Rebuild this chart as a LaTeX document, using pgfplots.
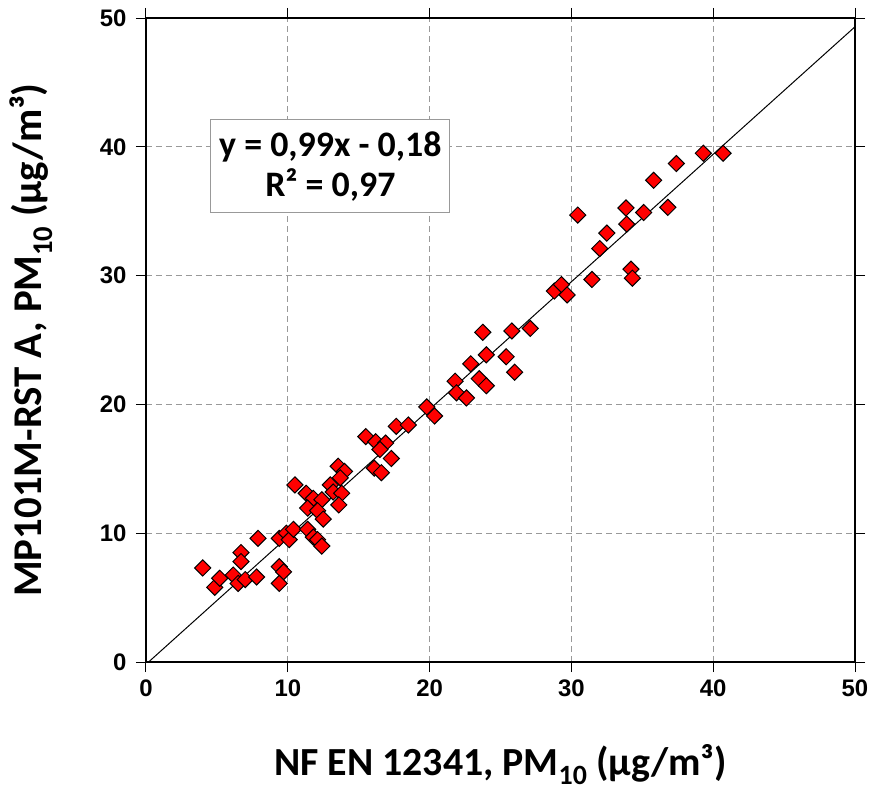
\documentclass[border=0pt]{standalone}
\usepackage{pgfplots}
\pgfplotsset{compat=1.18}
\usepackage{fontspec}
\setmainfont{Carlito}
\newfontfamily\tickfont{Liberation Sans}
\begin{document}
\begin{tikzpicture}
\useasboundingbox (-146bp,-129bp) rectangle (727bp,662bp);
\begin{axis}[
  scale only axis,
  width=709bp, height=644bp,
  xmin=0, xmax=50, ymin=0, ymax=50,
  xtick={0,10,20,30,40,50}, ytick={0,10,20,30,40,50},
  tick align=outside, major tick length=10bp,
  tick style={black, line width=1pt},
  axis line style={black, line width=1.6pt},
  grid=major,
  major grid style={gray!80, dashed, line width=1.1pt, dash pattern=on 6bp off 4bp},
  ticklabel style={font=\tickfont\bfseries\fontsize{24}{26}\selectfont},
  /pgf/number format/assume math mode=true,
  xticklabel style={yshift=-4bp},
  yticklabel style={xshift=-6bp},
  xlabel={NF EN 12341, PM\textsubscript{10} (µg/m³)},
  ylabel={MP101M-RST A, PM\textsubscript{10} (µg/m³)},
  xlabel style={font=\bfseries\fontsize{40}{44}\selectfont, inner sep=0pt, at={(axis description cs:0.5,0)}, anchor=base, yshift=-113bp},
  ylabel style={font=\bfseries\fontsize{41}{44}\selectfont, inner sep=0pt, at={(axis description cs:0,0.5)}, anchor=base, yshift=104bp},
  clip=true,
]
\addplot[black, line width=1pt] coordinates {(0.1818,0) (50,49.32)};
\addplot[only marks, mark=square*, mark size=5.7bp,
  mark options={rotate=45, fill=red, draw=black, line width=1pt}]
coordinates {
(4.0,7.3) (4.85,5.8) (5.2,6.5) (6.15,6.75) (6.5,6.1) (7.0,6.4) (7.8,6.6)
(6.7,8.5) (6.7,7.8) (7.9,9.6) (9.4,7.4) (9.7,7.0) (9.4,6.1) (9.4,9.6)
(9.9,10.0) (10.1,9.5) (10.4,10.3) (11.4,10.3) (11.8,9.7) (12.1,9.5) (12.4,9.0)
(10.5,13.75) (11.3,13.1) (11.8,12.7) (12.4,12.6) (11.4,11.95) (12.1,11.75) (12.5,11.1)
(13.0,13.75) (13.2,13.2) (13.8,13.1) (13.6,12.2) (13.55,15.2) (14.0,14.8) (13.7,14.3)
(15.5,17.5) (16.2,17.1) (16.9,17.0) (16.5,16.5) (17.3,15.8) (16.1,15.05) (16.6,14.7)
(17.65,18.3) (18.5,18.4) (19.8,19.8) (20.35,19.1)
(21.8,21.8) (21.9,20.9) (22.6,20.5) (23.5,22.0) (24.0,21.45) (22.9,23.15)
(24.0,23.85) (25.4,23.7) (26.0,22.5) (23.75,25.6) (25.8,25.7) (27.1,25.9)
(28.8,28.8) (29.3,29.3) (29.7,28.5) (31.45,29.7) (34.2,30.5) (34.3,29.8)
(32.0,32.1) (32.5,33.3) (33.9,34.0) (30.45,34.7) (33.85,35.25) (35.1,34.9)
(36.8,35.3) (35.8,37.4) (37.4,38.7) (39.3,39.5) (40.7,39.5)
};
\node[draw=gray!80, line width=1pt, fill=white, align=center, inner sep=0pt,
  minimum width=239bp, minimum height=93bp,
  font=\bfseries\fontsize{36}{40}\selectfont] at (axis cs:13.0,38.5)
  {y = 0,99x - 0,18\\R² = 0,97};
\end{axis}
\end{tikzpicture}
\end{document}
